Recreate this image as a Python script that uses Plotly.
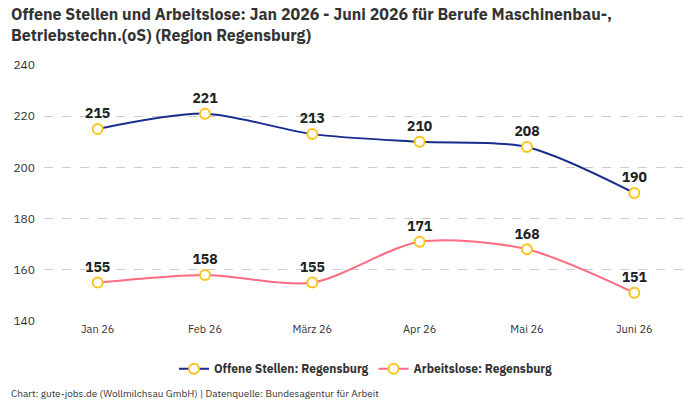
import plotly.graph_objects as go

months = ["Jan 26", "Feb 26", "März 26", "Apr 26", "Mai 26", "Juni 26"]
offene = [215, 221, 213, 210, 208, 190]
arbeitslose = [155, 158, 155, 171, 168, 151]
tickvals = [140, 160, 180, 200, 220, 240]

FONT = "IBM Plex Sans, Roboto, sans-serif"
marker = dict(size=10, color="white", line=dict(color="#fcc419", width=2))

fig = go.Figure()
fig.add_trace(go.Scatter(
    x=months, y=offene, name="Offene Stellen: Regensburg",
    mode="lines+markers+text", text=[str(v) for v in offene],
    textposition="top center",
    textfont=dict(size=14, color="#222", family=FONT, weight="bold"),
    line=dict(color="#1a2b8f", width=2, shape="spline", smoothing=0.8),
    marker=marker, cliponaxis=False,
))
fig.add_trace(go.Scatter(
    x=months, y=arbeitslose, name="Arbeitslose: Regensburg",
    mode="lines+markers+text", text=[str(v) for v in arbeitslose],
    textposition="top center",
    textfont=dict(size=14, color="#222", family=FONT, weight="bold"),
    line=dict(color="#ff6b81", width=2, shape="spline", smoothing=0.8),
    marker=marker, cliponaxis=False,
))

fig.update_layout(
    width=700, height=400,
    margin=dict(l=44, r=12, t=65, b=79),
    paper_bgcolor="white", plot_bgcolor="white",
    font=dict(family=FONT, color="#333", size=12),
    showlegend=True,
    legend=dict(
        orientation="h", x=0.5, xanchor="center", y=-0.13, yanchor="top",
        font=dict(size=12, color="#333", family=FONT, weight="bold"),
    ),
    xaxis=dict(
        type="category", range=[-0.5, 5.5], showgrid=False, zeroline=False,
        showline=False, ticks="", tickfont=dict(size=11, color="#333"),
    ),
    yaxis=dict(
        range=[140, 240], tickvals=tickvals, showgrid=True,
        gridcolor="#cccccc", griddash="dash", gridwidth=1, zeroline=False,
        showline=False, ticks="", tickfont=dict(size=12, color="#333"),
        ticklabelstandoff=8,
    ),
)
fig.add_annotation(
    text="<b>Offene Stellen und Arbeitslose: Jan 2026 - Juni 2026 für Berufe Maschinenbau-,<br>Betriebstechn.(oS) (Region Regensburg)</b>",
    xref="paper", yref="paper", x=-0.054, y=1.245, xanchor="left", yanchor="top",
    align="left", showarrow=False,
    font=dict(size=16, color="#333", family=FONT),
)
fig.add_annotation(
    text="Chart: gute-jobs.de (Wollmilchsau GmbH) | Datenquelle: Bundesagentur für Arbeit",
    xref="paper", yref="paper", x=-0.055, y=-0.25, xanchor="left", yanchor="top",
    showarrow=False, font=dict(size=10, color="#333", family=FONT),
)
fig.write_html("out.html")
